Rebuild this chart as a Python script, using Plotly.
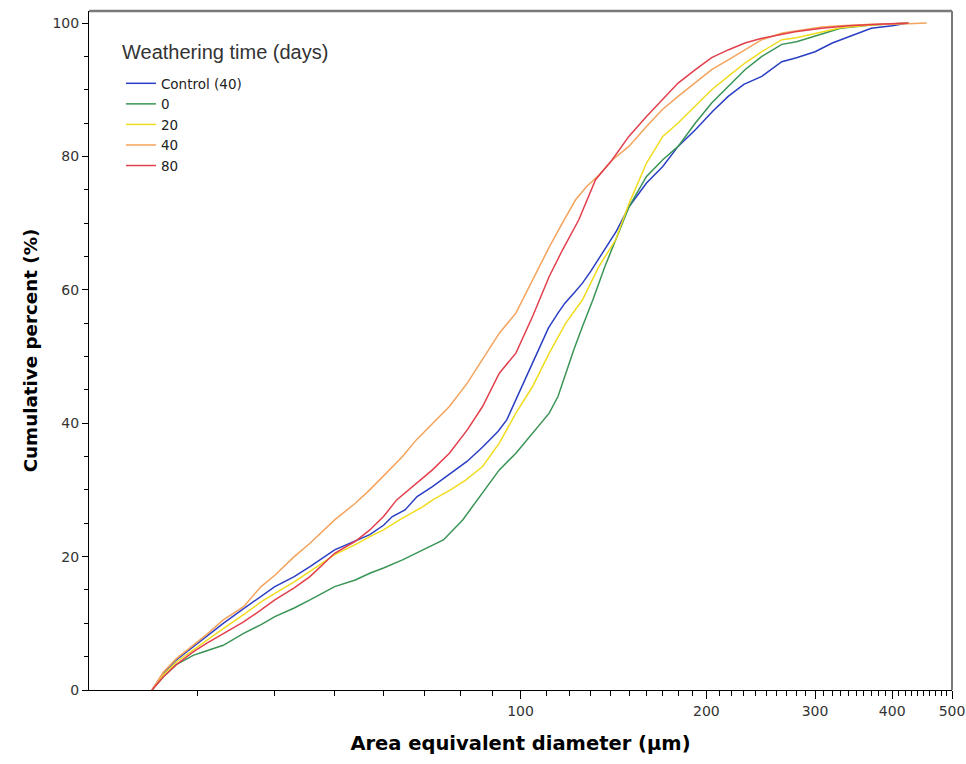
import plotly.graph_objects as go

# Cumulative size distributions of particles (area equivalent diameter, µm)
control_x = [25.3, 26.4, 27.7, 29.5, 31, 33, 35.6, 38, 40, 43, 45.6, 50, 54, 57, 60, 62, 65, 68, 72, 77,
             82, 87, 92, 95, 98, 101, 105, 108, 111, 115, 118, 122, 126, 130, 134, 138, 143, 150, 160,
             170, 180, 192, 205, 217, 230, 246, 265, 280, 300, 320, 345, 370, 400, 425]
control_y = [0, 2.5, 4.5, 6.5, 8.0, 10.0, 12.2, 14.0, 15.5, 17.0, 18.5, 21.0, 22.3, 23.3, 24.7, 26.0, 27.0,
             29.0, 30.5, 32.5, 34.3, 36.5, 38.8, 40.5, 43.3, 46.0, 49.5, 52.0, 54.3, 56.5, 58.0, 59.5,
             61.0, 62.8, 64.7, 66.5, 68.8, 72.5, 76.0, 78.5, 81.5, 84.0, 86.8, 89.0, 90.8, 92.0, 94.2,
             94.8, 95.7, 97.0, 98.2, 99.2, 99.6, 100]

d0_x = [25.3, 26.4, 27.7, 29.5, 30.6, 33, 35.6, 38, 40, 43, 45.6, 50, 54, 57, 60, 64.4, 69.5, 75, 80.6,
        86.8, 92.4, 98.3, 104.6, 111.3, 115, 118.4, 122, 126, 131, 137, 142.6, 150, 160, 170, 180, 192,
        204, 217, 231, 246, 265, 280, 307, 330, 370, 425]
d0_y = [0, 2.0, 3.8, 5.2, 5.7, 6.7, 8.5, 9.8, 11.0, 12.3, 13.5, 15.5, 16.5, 17.5, 18.3, 19.5, 21.0, 22.5,
        25.5, 29.5, 33.0, 35.5, 38.5, 41.5, 44.0, 47.5, 51.0, 54.5, 58.5, 63.5, 67.5, 72.5, 77.0, 79.5,
        81.5, 85.0, 88.0, 90.5, 93.0, 95.0, 96.8, 97.2, 98.3, 99.2, 99.7, 100]

d20_x = [25.3, 26.4, 27.7, 29.5, 31, 33, 35.6, 38, 40, 43, 45.6, 50, 54, 57, 60, 63.7, 69.5, 72.1, 77,
         81.6, 86.8, 92.4, 98.3, 104.6, 111.3, 118.4, 126, 134, 142.6, 150, 160, 170, 180, 192, 204,
         217, 231, 246, 265, 280, 307, 330, 370, 425]
d20_y = [0, 2.3, 4.2, 6.0, 7.5, 9.2, 11.3, 13.2, 14.5, 16.2, 17.8, 20.3, 21.8, 23.0, 24.0, 25.5, 27.5,
         28.5, 30.0, 31.5, 33.5, 37.0, 41.5, 45.5, 50.5, 55.0, 58.5, 63.5, 67.5, 73.0, 79.0, 83.0, 85.0,
         87.5, 90.0, 92.0, 94.0, 95.7, 97.5, 97.8, 98.7, 99.3, 99.7, 100]

d40_x = [25.3, 26.4, 27.7, 29.5, 31, 33, 35.6, 38, 40, 43, 45.6, 50, 54, 57, 59.8, 64.4, 67.8, 72, 76.7,
         82, 86.8, 92.4, 98.3, 104.6, 111.3, 116.9, 122.8, 128, 134, 141, 149.8, 160, 169.6, 180, 192,
         204, 217.4, 231.3, 246, 265.6, 278.5, 307.5, 330, 370, 425, 455]
d40_y = [0, 2.7, 4.7, 6.7, 8.3, 10.5, 12.5, 15.5, 17.2, 20.0, 22.0, 25.5, 28.0, 30.0, 32.0, 35.0, 37.5,
         40.0, 42.5, 46.0, 49.5, 53.5, 56.5, 61.5, 66.4, 70.0, 73.5, 75.5, 77.2, 79.5, 81.5, 84.5, 87.0,
         89.0, 91.0, 93.0, 94.5, 96.0, 97.5, 98.5, 98.8, 99.4, 99.6, 99.8, 99.9, 100]

d80_x = [25.3, 26.4, 27.7, 29.5, 31, 33, 35.6, 38, 40, 43, 45.6, 50, 54, 57, 60, 63, 67.8, 72, 76.7, 82,
         86.8, 92.4, 98.3, 104.6, 111.3, 117, 124.3, 129, 132.3, 140.8, 149.8, 160, 169.6, 180, 192, 204,
         217.4, 231, 246, 278.5, 307.5, 340, 380, 425]
d80_y = [0, 2.0, 3.8, 5.7, 7.0, 8.5, 10.2, 12.0, 13.5, 15.3, 17.0, 20.5, 22.3, 24.0, 26.0, 28.5, 31.0,
         33.0, 35.5, 39.0, 42.5, 47.5, 50.5, 56.0, 62.0, 66.0, 70.5, 74.0, 76.5, 79.5, 83.0, 86.0, 88.5,
         91.0, 93.0, 94.8, 96.0, 97.0, 97.7, 98.7, 99.2, 99.6, 99.8, 100]

series = [
    ("Control (40)", control_x, control_y, "#2a3ec4"),
    ("0", d0_x, d0_y, "#3a9456"),
    ("20", d20_x, d20_y, "#f0dc1e"),
    ("40", d40_x, d40_y, "#f4a35c"),
    ("80", d80_x, d80_y, "#e23f4c"),
]

legend_title = "Weathering time (days)"
x_major = [100, 200, 300, 400, 500]
x_minor = [v for v in range(30, 500, 10) if v not in x_major]
y_major = [0, 20, 40, 60, 80, 100]
y_minor = [v for v in range(5, 100, 5) if v not in y_major]

fig = go.Figure()
for name, xs, ys, color in series:
    fig.add_trace(go.Scatter(x=xs, y=ys, mode="lines", name=name,
                             line=dict(color=color, width=1.5)))

sans = "Liberation Sans, Arial, sans-serif"
wide = "DejaVu Sans, Verdana, sans-serif"
axis_font = dict(family=wide, size=14, color="#333333")

fig.update_layout(
    width=966, height=764,
    margin=dict(l=89, r=14, t=11, b=74, autoexpand=False),
    paper_bgcolor="white", plot_bgcolor="white",
    showlegend=True,
    legend=dict(
        x=0.037, y=0.916, xanchor="left", yanchor="top",
        font=dict(family=wide, size=13.5, color="#222222"),
        bgcolor="rgba(0,0,0,0)", itemwidth=30, tracegroupgap=0,
    ),
    annotations=[
        dict(text=legend_title, xref="paper", yref="paper", x=0.0355, y=0.94,
             xanchor="left", yanchor="middle", showarrow=False,
             font=dict(family=sans, size=20, color="#333333")),
    ],
    xaxis=dict(
        type="log", range=[1.30103, 2.69897], automargin=False,
        tickmode="array", tickvals=x_major, ticktext=[str(v) for v in x_major],
        ticks="outside", ticklen=8, tickcolor="black", tickwidth=1,
        minor=dict(tickmode="array", tickvals=x_minor, ticks="outside", ticklen=5,
                   tickcolor="black", tickwidth=1, showgrid=False),
        showline=True, linecolor="black", linewidth=1, showgrid=False, zeroline=False,
        tickfont=axis_font,
        title=dict(text="<b>Area equivalent diameter (µm)</b>", standoff=18,
                   font=dict(family=wide, size=19.5, color="black")),
    ),
    yaxis=dict(
        range=[0, 101.8], automargin=False,
        tickmode="array", tickvals=y_major,
        ticks="outside", ticklen=6, tickcolor="black", tickwidth=1,
        minor=dict(tickmode="array", tickvals=y_minor, ticks="outside", ticklen=4,
                   tickcolor="black", tickwidth=1, showgrid=False),
        showline=True, linecolor="black", linewidth=1, showgrid=False, zeroline=False,
        tickfont=axis_font,
        title=dict(text="<b>Cumulative percent (%)</b>", standoff=10,
                   font=dict(family=wide, size=18.3, color="black")),
    ),
    shapes=[
        dict(type="line", xref="x domain", yref="y domain", x0=0, x1=1, y0=1, y1=1,
             line=dict(color="#7a7a7a", width=2.5), layer="above"),
        dict(type="line", xref="x domain", yref="y domain", x0=1, x1=1, y0=0, y1=1,
             line=dict(color="#7a7a7a", width=2), layer="above"),
    ],
)

fig.write_html("out.html")
